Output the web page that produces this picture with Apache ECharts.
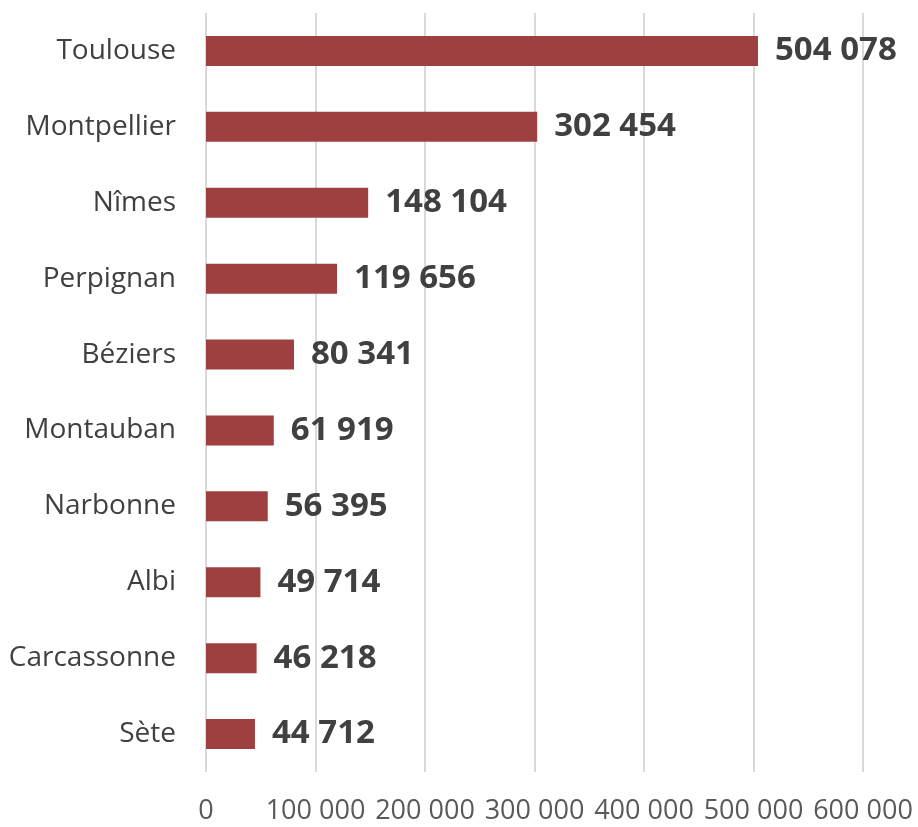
<!DOCTYPE html>
<html>
<head>
<meta charset="utf-8">
<script src="https://cdn.jsdelivr.net/npm/echarts@6/dist/echarts.min.js"></script>
<style>
  html, body { margin: 0; padding: 0; background: #fff; }
  #chart { width: 918px; height: 827px; }
</style>
</head>
<body>
<div id="chart"></div>
<script>
  // villes et populations
  const cities = ['Toulouse', 'Montpellier', 'Nîmes', 'Perpignan', 'Béziers', 'Montauban', 'Narbonne', 'Albi', 'Carcassonne', 'Sète'];
  const population = [504078, 302454, 148104, 119656, 80341, 61919, 56395, 49714, 46218, 44712];
  const xTicks = [0, 100000, 200000, 300000, 400000, 500000, 600000];

  const fmt = v => String(v).replace(/\B(?=(\d{3})+(?!\d))/g, ' ');

  const chart = echarts.init(document.getElementById('chart'));
  chart.setOption({
    animation: false,
    grid: { left: 206, right: 55, top: 13, bottom: 55, containLabel: false },
    xAxis: {
      type: 'value',
      min: xTicks[0],
      max: xTicks[xTicks.length - 1],
      interval: 100000,
      axisLine: { show: false },
      axisTick: { show: false },
      splitLine: { lineStyle: { color: '#d9d9d9', width: 2 } },
      axisLabel: {
        formatter: fmt,
        color: '#595959',
        fontFamily: 'Open Sans',
        fontSize: 27,
        margin: 26
      }
    },
    yAxis: {
      type: 'category',
      inverse: true,
      data: cities,
      axisLine: { show: false },
      axisTick: { show: false },
      axisLabel: {
        color: '#404040',
        fontFamily: 'Open Sans',
        fontSize: 28,
        margin: 30
      }
    },
    series: [{
      type: 'bar',
      data: population,
      barWidth: 30,
      itemStyle: { color: '#9e403f' },
      label: {
        show: true,
        position: 'right',
        distance: 17,
        formatter: p => fmt(p.value),
        color: '#404040',
        fontFamily: 'Open Sans',
        fontWeight: 'bold',
        fontSize: 33
      }
    }]
  });
</script>
</body>
</html>
